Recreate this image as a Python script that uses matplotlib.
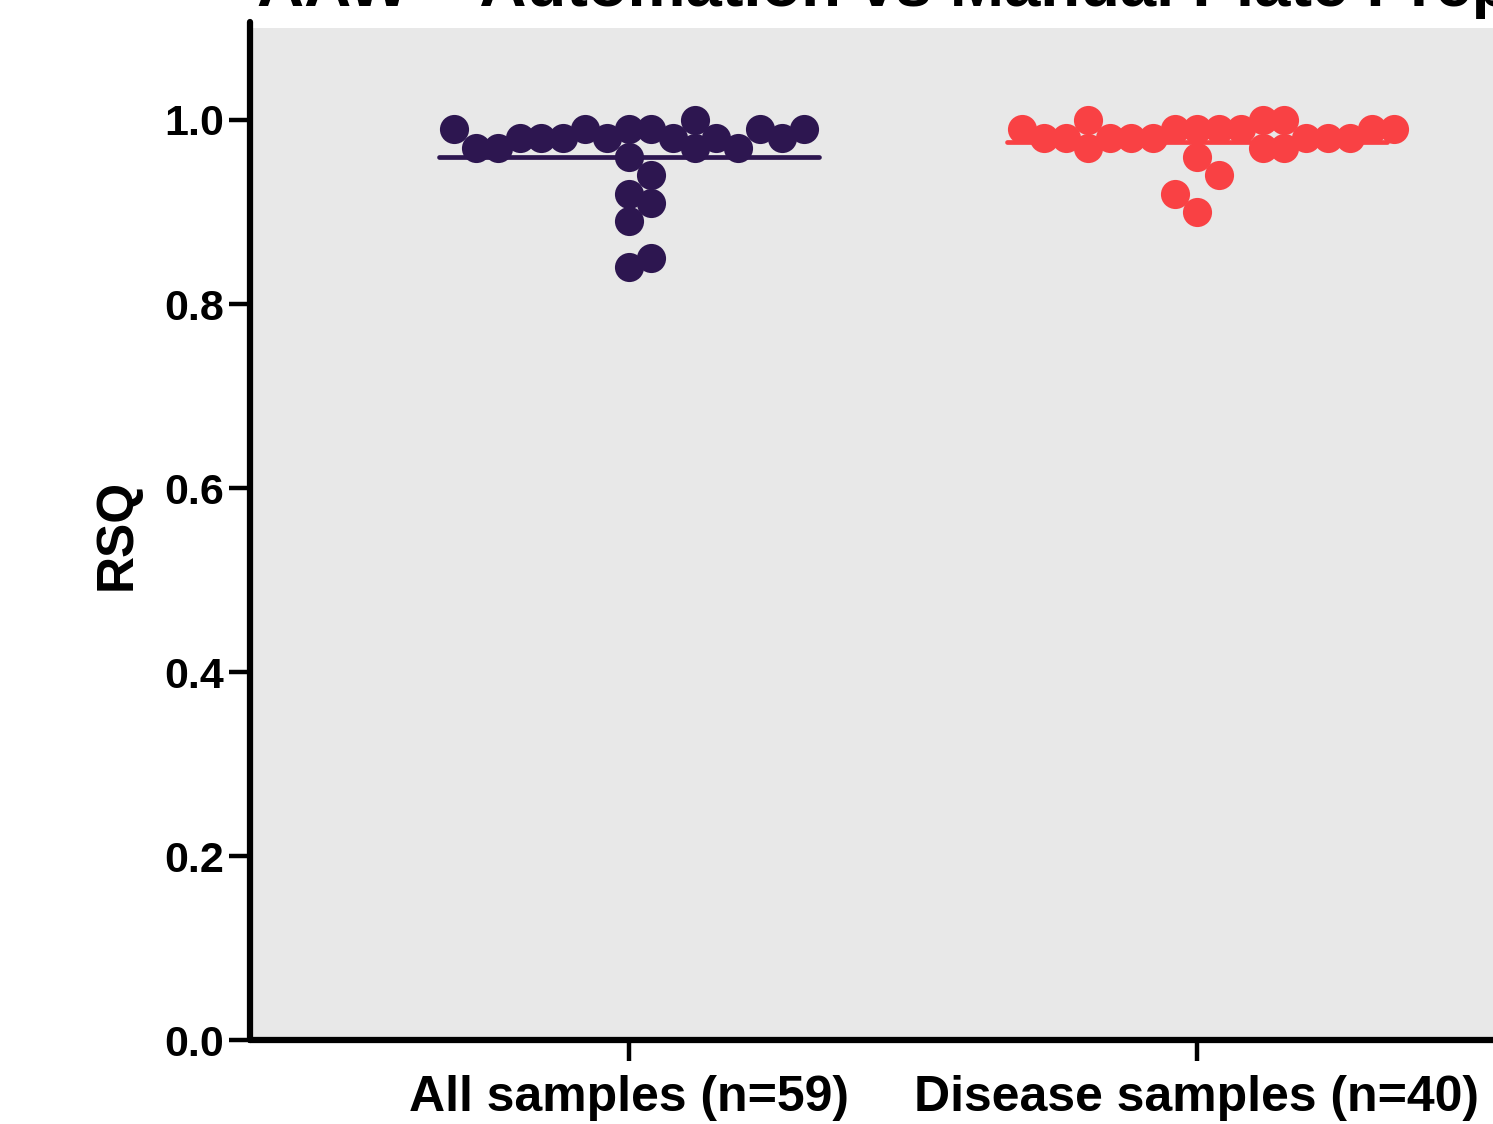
import numpy as np
import matplotlib
matplotlib.use("Agg")
import matplotlib.pyplot as plt

plt.rcParams["font.family"] = ["Liberation Sans", "DejaVu Sans"]
plt.rcParams["font.weight"] = "bold"

# RSQ values (left to right)
all_rsq = [0.99, 0.99, 0.98, 0.98, 0.99, 0.96, 0.97, 0.98, 0.98, 0.98, 0.92, 0.89, 0.84,
           0.85, 0.97, 0.94, 0.91, 0.98, 0.99, 1.00, 0.97, 0.98, 0.97, 0.99, 0.99]
disease_rsq = [0.99, 0.99, 0.99, 0.99, 0.96, 0.98, 1.00, 0.97, 0.98, 1.00, 0.97, 0.98, 0.98,
               0.94, 0.90, 0.92, 1.00, 0.97, 0.98, 0.98, 0.98, 0.98, 0.99, 0.99, 0.99]
groups = ["All samples (n=59)", "Disease samples (n=40)"]
colors = ["#2d1650", "#f94144"]
title = "AAW \u2013 Automation vs Manual Plate Prep"


def swarm(ax, values, step, min_px):
    # simple column swarm: each point goes to the column nearest the middle
    # where it does not sit on top of another point
    ypix = ax.transData.transform(np.column_stack([np.zeros(len(values)), values]))[:, 1]
    order = [0] + [s * k for k in range(1, 80) for s in (1, -1)]
    cols = {}
    offs = []
    for y in ypix:
        for c in order:
            if all(abs(y - o) >= min_px for o in cols.get(c, [])):
                cols.setdefault(c, []).append(y)
                offs.append(c * step)
                break
    return np.array(offs)


fig = plt.figure(figsize=(14.93, 11.24), dpi=100)
ax = fig.add_axes([0.1675, 0.0747, 0.888, 0.9004])
ax.set_facecolor("#e8e8e8")
ax.set_xlim(-0.667, 1.667)
ax.set_ylim(0, 1.1)

for i, (vals, c) in enumerate(zip([all_rsq, disease_rsq], colors)):
    x = i + swarm(ax, vals, 0.0385, 21)
    ax.scatter(x, vals, s=440, color=c, linewidths=0, zorder=3, clip_on=False)
    m = np.mean(vals)
    ax.plot([i - 0.335, i + 0.335], [m, m], color=c, lw=3.4, solid_capstyle="round", zorder=4)

ax.set_xticks([0, 1])
ax.set_xticklabels(groups, fontsize=36, fontweight="bold")
ax.set_yticks(np.arange(0, 1.01, 0.2))
ax.set_yticklabels(["%.1f" % v for v in np.arange(0, 1.01, 0.2)], fontsize=31, fontweight="bold")
ax.set_ylabel("RSQ", fontsize=37, fontweight="bold", labelpad=16)

for s in ["top", "right"]:
    ax.spines[s].set_visible(False)
for s in ["left", "bottom"]:
    ax.spines[s].set_linewidth(4.5)
    ax.spines[s].set_capstyle("round")
ax.spines["left"].set_bounds(0, 1.106)
ax.tick_params(axis="both", length=15, width=3.2, pad=4)
ax.tick_params(axis="x", pad=10)

fig.text(0.172, 0.9945, title, fontsize=47, fontweight="bold", va="baseline", ha="left")

fig.savefig("out.png", dpi=100)
